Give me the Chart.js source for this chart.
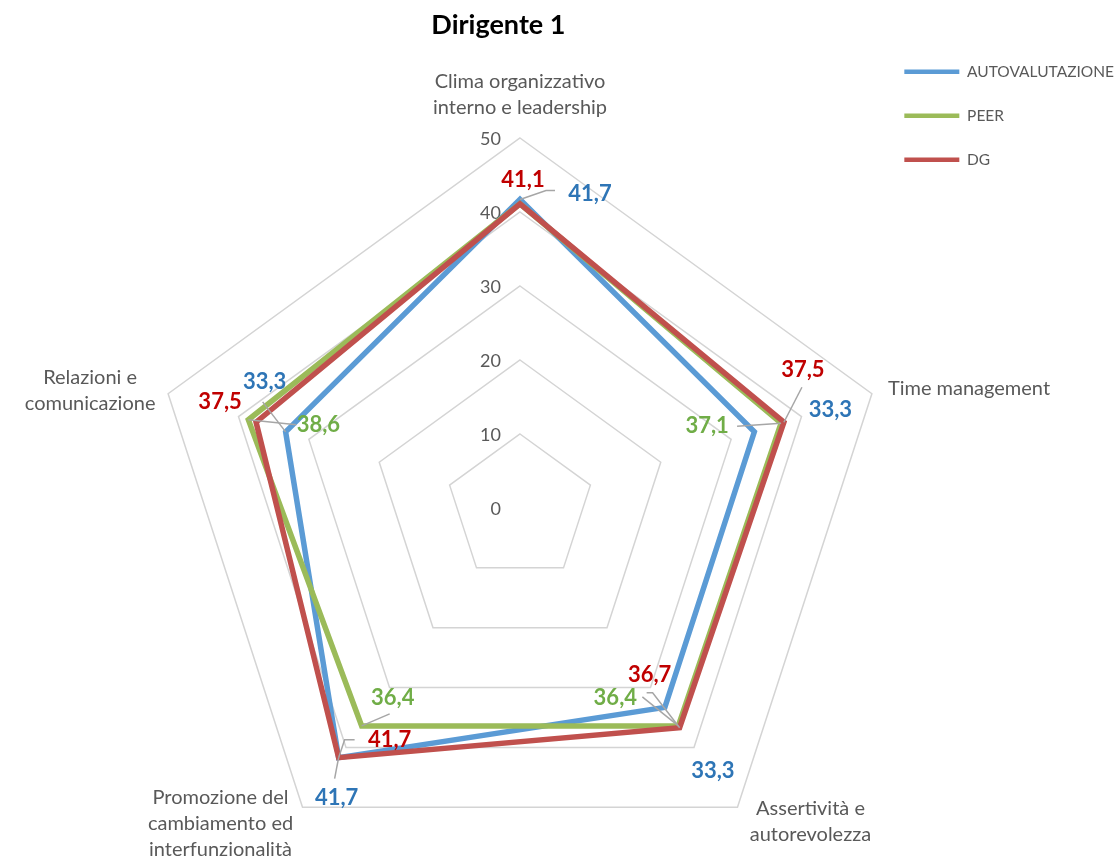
<!DOCTYPE html>
<html><head><meta charset="utf-8">
<script src="https://cdn.jsdelivr.net/npm/chart.js@4.4.0/dist/chart.umd.min.js"></script>
<style>html,body{margin:0;padding:0;background:#fff;overflow:hidden}</style>
</head><body>
<canvas id="c" width="1116" height="864"></canvas>
<script>
// ---- data ----
const chartTitle = "Dirigente 1";
const categories = [
  ["Clima organizzativo", "interno e leadership"],
  ["Time management"],
  ["Assertività e", "autorevolezza"],
  ["Promozione del", "cambiamento ed", "interfunzionalità"],
  ["Relazioni e", "comunicazione"]
];
const seriesNames = ["AUTOVALUTAZIONE", "PEER", "DG"];
const autovalutazione = [41.7, 33.3, 33.3, 41.7, 33.3];
const peer = [41.1, 37.1, 36.4, 36.4, 38.6];
const dg = [41.1, 37.5, 36.7, 41.7, 37.5];
const tickMin = 0, tickMax = 50, tickStep = 10;

// ---- styles / placement (not data) ----
const lineColors = ["#5b9bd5", "#9bbb59", "#c0504d"];
const labelColors = ["#2e75b6", "#70ad47", "#c00000"];
const drawOrder = [3, 2, 1];
// data-label offsets from their point, with optional leader line start (relative to label centre)
const labelPlacement = [
  [{dx: 70, dy: -6, lead: [[-35, -3], [-44, -3]]}, {dx: 76, dy: -22}, {dx: 48, dy: 64}, {dx: -2, dy: 40, lead: [[-2, -19]]}, {dx: -21, dy: -50, lead: [[-2, 20]]}],
  [null, {dx: -74, dy: 3, lead: [[30, 0]]}, {dx: -63, dy: -28, lead: [[27, -1]]}, {dx: 31, dy: -28, lead: [[-3, 16]]}, {dx: 70, dy: 5, lead: [[-22, 0]]}],
  [{dx: 3, dy: -24}, {dx: 19, dy: -52, lead: [[-1, 17]]}, {dx: -30, dy: -53, lead: [[-3, 18], [3, 18]]}, {dx: 51, dy: -18, lead: [[-35, 0], [-45, 0]]}, {dx: -36, dy: -20}]
];
// category label placement relative to outer vertex
const catPlacement = [
  {dx: 0, dy: -56, align: "center"},
  {dx: 16, dy: -5, align: "left"},
  {dx: 73, dy: 1, align: "center"},
  {dx: -82, dy: -10, align: "center"},
  {dx: -78, dy: -16, align: "center"}
];
const FONT = "Lato";
Chart.defaults.font.family = FONT;

const fmt = v => v.toFixed(1).replace(".", ",");

const overlayPlugin = {
  id: "overlay",
  beforeDatasetsDraw(chart) {
    const s = chart.scales.r, ctx = chart.ctx;
    ctx.save();
    ctx.font = "18px " + FONT;
    ctx.fillStyle = "#595959";
    ctx.textAlign = "right";
    ctx.textBaseline = "middle";
    s.ticks.forEach(t => {
      const p = s.getPointPositionForValue(0, t.value);
      ctx.fillText(String(t.value), p.x - 19, p.y + 1);
    });
    ctx.restore();
  },
  afterDatasetsDraw(chart) {
    const s = chart.scales.r, ctx = chart.ctx;
    ctx.save();
    // category labels
    ctx.font = "20px " + FONT;
    ctx.fillStyle = "#595959";
    ctx.textBaseline = "middle";
    chart.data.labels.forEach((lab, i) => {
      const p = s.getPointPosition(i, s.drawingArea);
      const pl = catPlacement[i];
      ctx.textAlign = pl.align;
      lab.forEach((line, k) => ctx.fillText(line, p.x + pl.dx, p.y + pl.dy + k * 26));
    });
    // data labels
    chart.data.datasets.forEach((ds, di) => {
      const meta = chart.getDatasetMeta(di);
      meta.data.forEach((pt, i) => {
        const pl = labelPlacement[di][i];
        if (!pl) return;
        const lx = pt.x + pl.dx, ly = pt.y + pl.dy;
        if (pl.lead) {
          ctx.beginPath();
          ctx.strokeStyle = "#a6a6a6";
          ctx.lineWidth = 1.5;
          pl.lead.forEach((q, k) => k === 0 ? ctx.moveTo(lx + q[0], ly + q[1]) : ctx.lineTo(lx + q[0], ly + q[1]));
          ctx.lineTo(pt.x, pt.y);
          ctx.stroke();
        }
        ctx.font = "bold 22px " + FONT;
        ctx.fillStyle = labelColors[di];
        ctx.textAlign = "center";
        ctx.fillText(fmt(ds.data[i]), lx, ly);
      });
    });
    ctx.restore();
  }
};

const seriesValues = [autovalutazione, peer, dg];
new Chart(document.getElementById("c"), {
  type: "radar",
  data: {
    labels: categories,
    datasets: seriesNames.map((name, i) => ({
      label: name,
      data: seriesValues[i],
      borderColor: lineColors[i],
      backgroundColor: lineColors[i],
      borderWidth: 5.5,
      pointRadius: 0,
      pointHoverRadius: 0,
      pointBorderWidth: 4.5,
      pointBorderColor: lineColors[i],
      fill: false,
      order: drawOrder[i],
      clip: false
    }))
  },
  options: {
    responsive: false,
    animation: false,
    events: [],
    layout: {padding: {left: 121, right: -8, top: 0, bottom: 0}},
    plugins: {
      title: {
        display: true, text: chartTitle, fullSize: false, color: "#000",
        font: {family: FONT, size: 27, weight: "bold", lineHeight: 1.2},
        padding: {top: 9, bottom: -6}
      },
      legend: {
        position: "right", align: "start", fullSize: false,
        labels: {
          usePointStyle: true, pointStyle: "line", pointStyleWidth: 55,
          padding: 28.5, color: "#595959", font: {family: FONT, size: 15.5},
          sort: (a, b) => a.datasetIndex - b.datasetIndex
        }
      },
      tooltip: {enabled: false}
    },
    scales: {
      r: {
        min: tickMin, max: tickMax,
        ticks: {stepSize: tickStep, display: false},
        grid: {color: "#d4d4d4", lineWidth: 1.5},
        angleLines: {display: false},
        pointLabels: {display: false},
        afterFit(s) { s.xCenter = 520; s.yCenter = 508; s.drawingArea = 370; }
      }
    }
  },
  plugins: [overlayPlugin]
});
</script>
</body></html>
